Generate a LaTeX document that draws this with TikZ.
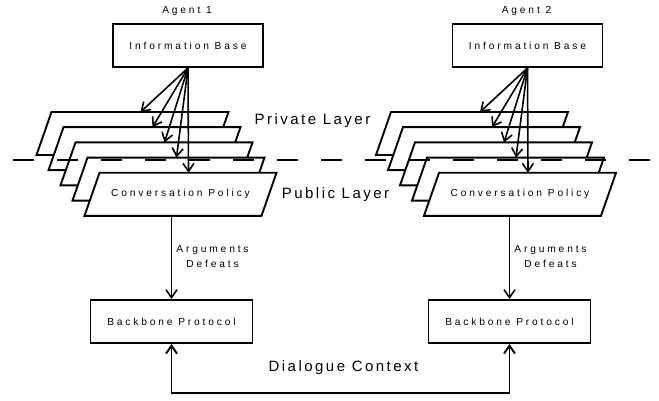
\documentclass[tikz,border=0pt]{standalone}
\usepackage{fontspec}
\newfontfamily\smallfont[LetterSpace=28]{Liberation Sans}
\newfontfamily\bigfont[LetterSpace=16.5]{Liberation Sans}
\usetikzlibrary{arrows.meta}
\tikzset{
  box/.style={draw, line width=1.9pt, minimum width=150pt, minimum height=43pt, inner sep=0pt, font=\smallfont\fontsize{10.2}{12}\selectfont},
  bpbox/.style={box, minimum width=162pt},
  layerbox/.style={draw, fill=white, line width=1.9pt, line join=miter},
  lbl/.style={font=\smallfont\fontsize{10.2}{12}\selectfont, inner sep=0pt},
  biglbl/.style={font=\bigfont\fontsize{15}{17}\selectfont, inner sep=0pt},
  arr/.style={line width=1.6pt, -{Straight Barb[length=8pt,width=11pt]}},
  dbl/.style={line width=1.9pt, {Straight Barb[length=8pt,width=11pt]}-{Straight Barb[length=8pt,width=11pt]}},
  sepline/.style={line width=1.7pt, dash pattern=on 21pt off 23pt},
}
\begin{document}
\begin{tikzpicture}[x=1pt,y=-1pt]
\useasboundingbox (0,0) rectangle (659,401);
\foreach \i/\dx/\ex in {1/0/0, 2/339.5/338} {
  \node[lbl] (ag\i) at (\dx+187,11) {Agent \i};
  \node[box] (a\i-ib) at (\dx+188,45.5) {Information Base};
  \foreach \k in {0,...,4} {
    \pgfmathsetmacro\lx{\dx+51.5+12*\k}
    \pgfmathsetmacro\ly{112+15.2*\k}
    \draw[layerbox] (\lx,\ly) -- ++(177,0) -- ++(-15,43) -- ++(-177,0) -- cycle;
    \coordinate (a\i-t\k) at (\lx+89,\ly);
  }
  \node[lbl] (a\i-cp) at (\dx+180.5,194.3) {Conversation Policy};
  \foreach \k in {0,...,4} {
    \draw[arr] (a\i-ib.south) -- (a\i-t\k);
  }
  \coordinate (a\i-pb) at (\ex+171.5,215.8);
  \node[bpbox] (a\i-bp) at (\ex+171.5,321.5) {Backbone Protocol};
  \draw[arr] (a\i-pb) -- (a\i-bp.north);
  \node[lbl, align=center] (a\i-ad) at (\ex+212.5,256.5) {Arguments\\[3pt]Defeats};
}
\node[biglbl] (priv) at (312.5,121) {Private Layer};
\node[biglbl] (pub) at (335.5,195) {Public Layer};
\coordinate (dl) at (13,160);
\coordinate (dr) at (652,160);
\draw[sepline] (dl) -- (dr);
\draw[dbl] (a1-bp.south) -- ++(0,49) -| (a2-bp.south);
\node[biglbl] (dc) at (343.5,368) {Dialogue Context};
\end{tikzpicture}
\end{document}
